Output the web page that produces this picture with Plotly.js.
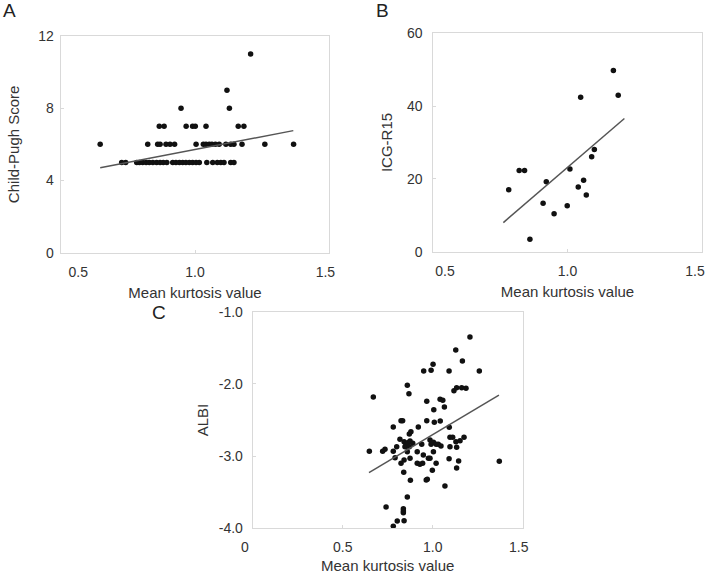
<!DOCTYPE html>
<html>
<head>
<meta charset="utf-8">
<script src="https://cdn.plot.ly/plotly-3.0.1.min.js"></script>
<style>html,body{margin:0;padding:0;background:#fff;}#chart{width:708px;height:574px;}</style>
</head>
<body>
<div id="chart"></div>
<script>
// Panel A: Child-Pugh score vs mean kurtosis
const kurtA = [
  0.727,0.742,0.783,0.793,0.805,0.818,0.830,0.843,0.857,0.870,0.882,0.895,0.917,0.929,0.942,0.954,0.966,0.979,0.991,1.004,1.016,1.044,1.066,1.083,1.096,1.108,1.133,1.145,
  0.647,0.824,0.861,0.870,0.892,0.907,0.924,1.004,1.031,1.041,1.053,1.063,1.076,1.090,1.115,1.133,1.145,1.175,1.260,1.367,
  0.867,0.885,0.967,0.991,1.001,1.041,1.161,1.182,
  0.948,1.128,
  1.119,
  1.207
];
const childPugh = [
  5,5,5,5,5,5,5,5,5,5,5,5,5,5,5,5,5,5,5,5,5,5,5,5,5,5,5,5,
  6,6,6,6,6,6,6,6,6,6,6,6,6,6,6,6,6,6,6,6,
  7,7,7,7,7,7,7,7,
  8,8,
  9,
  11
];
const fitA_x = [0.647, 1.366];
const fitA_y = [4.71, 6.76];

// Panel B: ICG-R15 vs mean kurtosis
const kurtB = [0.781,0.820,0.840,0.860,0.909,0.921,0.950,0.999,1.009,1.040,1.049,1.060,1.070,1.090,1.100,1.171,1.189];
const icgR15 = [17.0,22.3,22.3,3.4,13.3,19.2,10.4,12.6,22.7,17.8,42.4,19.6,15.6,26.1,28.1,49.8,43.0];
const fitB_x = [0.761, 1.212];
const fitB_y = [8.0, 36.6];

// Panel C: ALBI vs mean kurtosis
const kurtC = [
  1.207,1.128,1.165,1.002,0.950,0.991,1.091,1.259,0.859,0.868,0.670,1.118,1.133,1.161,1.185,0.967,1.041,1.056,1.065,1.006,
  0.824,0.833,0.920,0.967,1.009,1.042,0.781,1.092,0.870,0.879,0.818,0.841,0.852,0.861,0.874,0.889,0.846,0.870,
  0.648,0.722,0.735,0.781,0.800,0.791,0.939,0.985,0.991,1.004,1.019,1.031,1.046,1.096,1.111,1.129,1.152,1.174,1.096,1.133,
  0.859,0.914,0.948,0.976,1.004,0.824,0.841,0.874,0.914,0.929,0.944,0.985,1.019,1.091,1.144,1.133,1.370,
  0.839,0.998,0.876,0.964,0.970,1.068,0.859,0.741,0.837,0.837,0.837,0.803,0.841,0.781
];
const albi = [
  -1.350,-1.530,-1.683,-1.729,-1.821,-1.812,-1.821,-1.821,-2.020,-2.135,-2.181,-2.094,-2.053,-2.053,-2.061,-2.241,-2.214,-2.227,-2.320,-2.357,
  -2.510,-2.510,-2.597,-2.510,-2.532,-2.514,-2.597,-2.601,-2.694,-2.662,-2.768,-2.800,-2.837,-2.814,-2.791,-2.823,-2.870,-2.870,
  -2.934,-2.934,-2.906,-2.934,-2.870,-3.022,-2.837,-2.777,-2.837,-2.809,-2.837,-2.837,-2.860,-2.740,-2.740,-2.800,-2.787,-2.740,-2.870,-2.878,
  -2.939,-2.939,-2.985,-3.031,-2.939,-3.100,-3.054,-3.031,-3.100,-3.114,-3.100,-3.031,-3.100,-3.036,-3.068,-3.165,-3.072,
  -3.225,-3.197,-3.335,-3.331,-3.321,-3.414,-3.567,-3.705,-3.728,-3.760,-3.784,-3.899,-3.895,-3.972
];
const fitC_x = [0.646, 1.368];
const fitC_y = [-3.230, -2.154];

const ticksAB_x = [0.5, 1.0, 1.5], ticksAB_xText = ['0.5', '1.0', '1.5'];
const ticksA_y = [0, 4, 8, 12];
const ticksB_y = [0, 20, 40, 60];
const ticksC_x = [0, 0.5, 1.0, 1.5], ticksC_xText = ['0', '0.5', '1.0', '1.5'];
const ticksC_y = [-4, -3, -2, -1], ticksC_yText = ['-4.0', '-3.0', '-2.0', '-1.0'];

const FONT = 'Liberation Sans, Arial, sans-serif';
const W = 708, H = 574;
const px = v => v / W;
const py = v => 1 - v / H;

// edge tick labels sit slightly inside the frame, as in the reference
const NB = '\u00a0';
function padLabels(labels, lead, trail) {
  return labels.map((t, i) => NB.repeat(lead[i] || 0) + t + NB.repeat(trail[i] || 0));
}

const dot = {color: '#111', size: 5.5};
const fitLine = {color: '#555', width: 1.5};

const traces = [
  {x: kurtA, y: childPugh, mode: 'markers', type: 'scatter', marker: dot, xaxis: 'x', yaxis: 'y'},
  {x: fitA_x, y: fitA_y, mode: 'lines', type: 'scatter', line: fitLine, xaxis: 'x', yaxis: 'y'},
  {x: kurtB, y: icgR15, mode: 'markers', type: 'scatter', marker: dot, xaxis: 'x2', yaxis: 'y2'},
  {x: fitB_x, y: fitB_y, mode: 'lines', type: 'scatter', line: fitLine, xaxis: 'x2', yaxis: 'y2'},
  {x: kurtC, y: albi, mode: 'markers', type: 'scatter', marker: dot, xaxis: 'x3', yaxis: 'y3'},
  {x: fitC_x, y: fitC_y, mode: 'lines', type: 'scatter', line: fitLine, xaxis: 'x3', yaxis: 'y3'},
  // empty trace that makes the overlay axis for B's right-edge label exist
  {x: [], y: [], mode: 'markers', type: 'scatter', xaxis: 'x4', yaxis: 'y2'}
];

function axis(extra) {
  return Object.assign({
    showline: true, mirror: true, linecolor: '#d9d9d9', linewidth: 1,
    showgrid: false, zeroline: false,
    ticks: 'inside', ticklen: 3, tickcolor: '#d9d9d9', tickwidth: 1,
    tickfont: {family: FONT, size: 14, color: '#333'},
    fixedrange: true
  }, extra);
}
const titleFont = {family: FONT, size: 15, color: '#333'};

const layout = {
  width: W, height: H,
  margin: {l: 0, r: 0, t: 0, b: 0},
  paper_bgcolor: '#fff', plot_bgcolor: '#fff',
  showlegend: false,
  font: {family: FONT},
  xaxis: axis({domain: [px(60.7), px(329.3)], range: [0.5, 1.5], anchor: 'y',
    tickvals: ticksAB_x, ticktext: padLabels(ticksAB_xText, [9, 0, 0], [0, 0, 2]), ticklabelstandoff: 6,
    title: {text: 'Mean kurtosis value', font: titleFont, standoff: 8}}),
  yaxis: axis({domain: [py(252.7), py(36)], range: [0, 12], tickvals: ticksA_y, anchor: 'x', ticklabelstandoff: 3,
    title: {text: 'Child-Pugh Score', font: titleFont, standoff: 15}}),
  xaxis2: axis({domain: [px(433.3), px(701.7)], range: [0.5, 1.5], anchor: 'y2',
    tickvals: ticksAB_x, ticktext: padLabels(ticksAB_xText.slice(0, 2), [6, 0], [0, 0]).concat(['']), ticklabelstandoff: 6,
    title: {text: 'Mean kurtosis value', font: titleFont, standoff: 8}}),
  // label for B's 1.5 tick, right-aligned to the tick so it stays inside the page
  xaxis4: axis({domain: [px(433.3), px(701.7)], range: [0.5, 1.5], anchor: 'y2', overlaying: 'x2',
    showline: false, ticks: '', tickvals: ticksAB_x.slice(2), ticktext: ticksAB_xText.slice(2),
    ticklabelposition: 'outside left', ticklabelshift: 3, ticklabelstandoff: 9}),
  yaxis2: axis({domain: [py(251.7), py(33.3)], range: [0, 60], tickvals: ticksB_y, anchor: 'x2', ticklabelstandoff: 7,
    title: {text: 'ICG-R15', font: titleFont, standoff: 10}}),
  xaxis3: axis({domain: [px(252.7), px(522.7)], range: [0, 1.5], anchor: 'y3',
    tickvals: ticksC_x, ticktext: padLabels(ticksC_xText, [0, 0, 0, 0], [4, 0, 0, 2]), ticklabelstandoff: 6,
    title: {text: 'Mean kurtosis value', font: titleFont, standoff: 8}}),
  yaxis3: axis({domain: [py(528.3), py(311.7)], range: [-4, -1], tickvals: ticksC_y, ticktext: ticksC_yText, anchor: 'x3', ticklabelstandoff: 6,
    title: {text: 'ALBI', font: titleFont, standoff: 6}}),
  annotations: [
    {text: 'A', x: px(9), y: py(11), xref: 'paper', yref: 'paper', showarrow: false, xanchor: 'center', yanchor: 'middle', font: {family: FONT, size: 19, color: '#222'}},
    {text: 'B', x: px(382), y: py(11), xref: 'paper', yref: 'paper', showarrow: false, xanchor: 'center', yanchor: 'middle', font: {family: FONT, size: 19, color: '#222'}},
    {text: 'C', x: px(159), y: py(312), xref: 'paper', yref: 'paper', showarrow: false, xanchor: 'center', yanchor: 'middle', font: {family: FONT, size: 19, color: '#222'}}
  ]
};

Plotly.newPlot('chart', traces, layout, {displayModeBar: false, staticPlot: true});
</script>
</body>
</html>
